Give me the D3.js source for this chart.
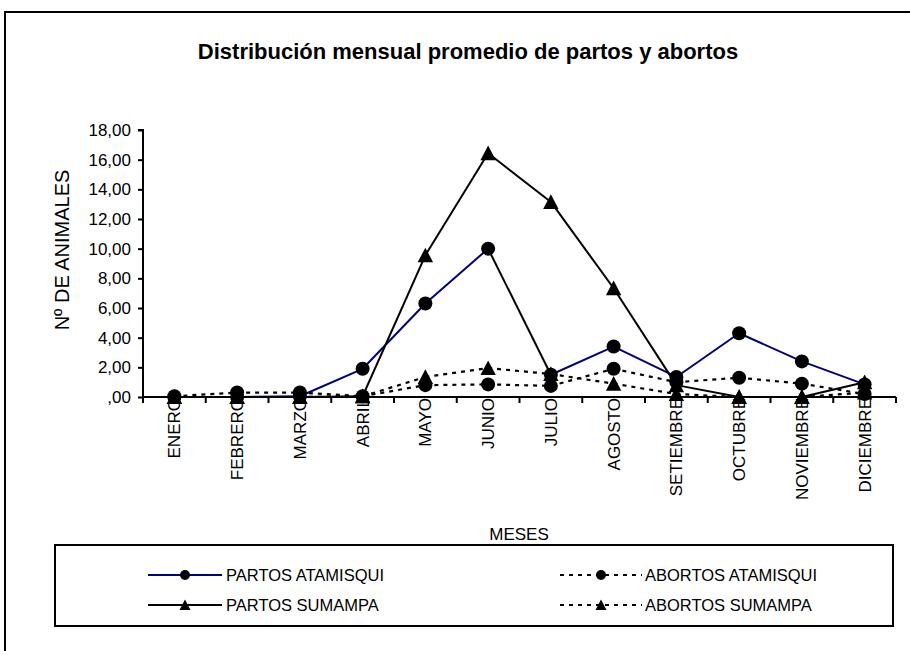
<!DOCTYPE html>
<html>
<head>
<meta charset="utf-8">
<script src="https://cdn.jsdelivr.net/npm/d3@7"></script>
<style>
  body { margin: 0; background: #fff; }
  svg { display: block; font-family: "Liberation Sans", Arial, sans-serif; }
</style>
</head>
<body>
<svg id="chart" width="910" height="651"></svg>
<script>
const months = ["ENERO","FEBRERO","MARZO","ABRIL","MAYO","JUNIO","JULIO","AGOSTO","SETIEMBRE","OCTUBRE","NOVIEMBRE","DICIEMBRE"];
const partosAtamisqui = [0.0, 0.0, 0.05, 1.9, 6.3, 10.0, 1.5, 3.4, 1.35, 4.3, 2.4, 0.85];
const abortosAtamisqui = [0.05, 0.3, 0.3, 0.05, 0.8, 0.85, 0.75, 1.9, 1.0, 1.3, 0.9, 0.2];
const partosSumampa = [0.0, 0.0, 0.0, 0.05, 9.55, 16.43, 13.15, 7.33, 0.8, 0.0, 0.0, 1.0];
const abortosSumampa = [0.0, 0.0, 0.0, 0.05, 1.35, 1.95, 1.55, 0.9, 0.2, 0.0, 0.0, 0.3];
const yTicks = [0, 2, 4, 6, 8, 10, 12, 14, 16, 18];

const series = [
  { name: "PARTOS ATAMISQUI", values: partosAtamisqui, color: "#000080", dash: null, marker: "circle", segColors: {5: "#000000"} },
  { name: "ABORTOS ATAMISQUI", values: abortosAtamisqui, color: "#000000", dash: "4,5", marker: "circle" },
  { name: "PARTOS SUMAMPA", values: partosSumampa, color: "#000000", dash: null, marker: "triangle" },
  { name: "ABORTOS SUMAMPA", values: abortosSumampa, color: "#000000", dash: "4,5", marker: "triangle" }
];

const svg = d3.select("#chart");
const fontSz = 17;

// outer frame
svg.append("rect").attr("x", 5).attr("y", 12).attr("width", 920).attr("height", 660)
  .attr("fill", "none").attr("stroke", "#000").attr("stroke-width", 2);

const pLeft = 143, pRight = 896, pTop = 130, pBottom = 397;
const x = d3.scaleBand().domain(months).range([pLeft, pRight]).padding(0);
const y = d3.scaleLinear().domain([0, 18]).range([pBottom, pTop]);

// title
svg.append("text").attr("x", 468).attr("y", 59).attr("text-anchor", "middle")
  .attr("font-weight", "bold").attr("font-size", 22).text("Distribución mensual promedio de partos y abortos");

// y axis
const yAxis = d3.axisLeft(y).tickValues(yTicks).tickSize(5).tickPadding(7)
  .tickFormat(d => d === 0 ? ",00" : d3.format(".2f")(d).replace(".", ","));
const gy = svg.append("g").attr("transform", `translate(${pLeft},0)`).call(yAxis);
gy.select(".domain").attr("stroke-width", 2).attr("d", `M-5,${pTop}H0V${pBottom}`);
gy.selectAll(".tick line").attr("stroke-width", 2);
gy.selectAll(".tick text").attr("font-size", fontSz).attr("font-family", "Liberation Sans, Arial, sans-serif").attr("fill", "#000");

svg.append("text").attr("transform", `translate(69,250) rotate(-90)`)
  .attr("text-anchor", "middle").attr("font-size", 20).text("Nº DE ANIMALES");

// x axis labels (drawn before marks so markers overlap them)
const gxl = svg.append("g");
months.forEach(m => {
  gxl.append("text")
    .attr("transform", `translate(${x(m) + x.bandwidth()/2 + 6},${pBottom + 1}) rotate(-90)`)
    .attr("text-anchor", "end").attr("font-size", fontSz).text(m);
});

// x axis line and ticks between categories
const gx = svg.append("g").attr("transform", `translate(0,${pBottom})`);
gx.append("line").attr("x1", pLeft).attr("x2", pRight).attr("stroke", "#000").attr("stroke-width", 2);
const boundaries = months.map(m => x(m)).concat([pRight]);
gx.selectAll(".xt").data(boundaries).join("line").attr("class", "xt")
  .attr("x1", d => d).attr("x2", d => d).attr("y1", 0).attr("y2", 6)
  .attr("stroke", "#000").attr("stroke-width", 2);

svg.append("text").attr("x", 519).attr("y", 540).attr("text-anchor", "middle")
  .attr("font-size", fontSz).text("MESES");

const cx = m => x(m) + x.bandwidth()/2;

function drawMarker(g, type, px, py, s) {
  if (type === "circle") {
    g.append("circle").attr("cx", px).attr("cy", py).attr("r", s).attr("fill", "#000");
  } else {
    const h = s * 2;
    g.append("path").attr("d", `M${px},${py - h*0.55}L${px + s*1.1},${py + h*0.5}L${px - s*1.1},${py + h*0.5}Z`).attr("fill", "#000");
  }
}

const marks = svg.append("g");
series.forEach(s => {
  const g = marks.append("g");
  for (let i = 0; i < months.length - 1; i++) {
    const col = (s.segColors && s.segColors[i]) || s.color;
    g.append("line")
      .attr("x1", cx(months[i])).attr("y1", y(s.values[i]))
      .attr("x2", cx(months[i+1])).attr("y2", y(s.values[i+1]))
      .attr("stroke", col).attr("stroke-width", s.dash ? 2.2 : 2)
      .attr("stroke-dasharray", s.dash);
  }
  months.forEach((m, i) => drawMarker(g, s.marker, cx(m), y(s.values[i]), 7));
});

// legend
svg.append("rect").attr("x", 55).attr("y", 545).attr("width", 838).attr("height", 81)
  .attr("fill", "none").attr("stroke", "#000").attr("stroke-width", 2);
const legPos = [
  { lx1: 148, lx2: 222, tx: 226, ty: 575 },
  { lx1: 560, lx2: 642, tx: 645, ty: 575 },
  { lx1: 148, lx2: 222, tx: 226, ty: 605 },
  { lx1: 560, lx2: 642, tx: 645, ty: 605 }
];
series.forEach((s, i) => {
  const p = legPos[i];
  const g = svg.append("g");
  g.append("line").attr("x1", p.lx1).attr("x2", p.lx2).attr("y1", p.ty).attr("y2", p.ty)
    .attr("stroke", s.color).attr("stroke-width", 2).attr("stroke-dasharray", s.dash);
  drawMarker(g, s.marker, (p.lx1 + p.lx2)/2, p.ty, 5);
  g.append("text").attr("x", p.tx).attr("y", p.ty + 6).attr("font-size", 16.5).text(s.name);
});
</script>
</body>
</html>
